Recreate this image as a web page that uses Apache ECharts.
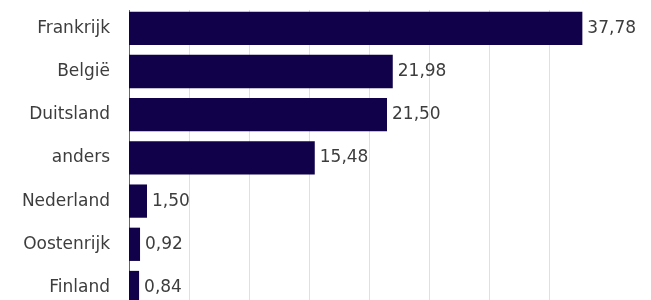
<!DOCTYPE html>
<html>
<head>
<meta charset="utf-8">
<script src="https://cdn.jsdelivr.net/npm/echarts@6/dist/echarts.min.js"></script>
<style>
  html, body { margin: 0; padding: 0; background: #fff; }
  #chart { width: 651px; height: 300px; }
</style>
</head>
<body>
<div id="chart"></div>
<script>
// landen van boven naar onder
var landen = ['Frankrijk', 'België', 'Duitsland', 'anders', 'Nederland', 'Oostenrijk', 'Finland'];
var aandelen = [37.78, 21.98, 21.50, 15.48, 1.50, 0.92, 0.84];

var chart = echarts.init(document.getElementById('chart'), null, { renderer: 'canvas' });

function komma(v) {
  return v.toFixed(2).replace('.', ',');
}

var tekst = {
  color: '#3d3d3d',
  fontSize: 17,
  fontFamily: '"DejaVu Sans", sans-serif'
};

var option = {
  animation: false,
  // grafiek loopt onderaan door buiten het beeld
  grid: { left: 129, width: 420, top: 6.7, height: 302.4, outerBoundsMode: 'none', containLabel: false },
  // rasterlijnen beginnen pas net boven de eerste balk
  graphic: [{
    type: 'rect',
    z: 100,
    shape: { x: 125, y: 0, width: 526, height: 10 },
    style: { fill: '#fff' }
  }],
  xAxis: {
    type: 'value',
    min: 0,
    max: 35,
    interval: 5,
    axisLabel: { show: false },
    axisLine: { show: false },
    axisTick: { show: false },
    splitLine: { lineStyle: { color: '#e0e0e0', width: 1 } }
  },
  yAxis: {
    type: 'category',
    inverse: true,
    data: landen,
    axisLine: { show: true, lineStyle: { color: '#666', width: 1 } },
    axisTick: { show: false },
    // landnamen staan iets hoger dan de waarden
    axisLabel: Object.assign({ margin: 19, padding: [0, 0, 5, 0] }, tekst)
  },
  series: [{
    type: 'bar',
    data: aandelen,
    clip: false,
    barCategoryGap: '23%',
    itemStyle: { color: '#11004a' },
    label: Object.assign({
      show: true,
      position: 'right',
      distance: 5,
      formatter: function (p) { return komma(p.value); }
    }, tekst)
  }]
};

chart.setOption(option);
</script>
</body>
</html>
